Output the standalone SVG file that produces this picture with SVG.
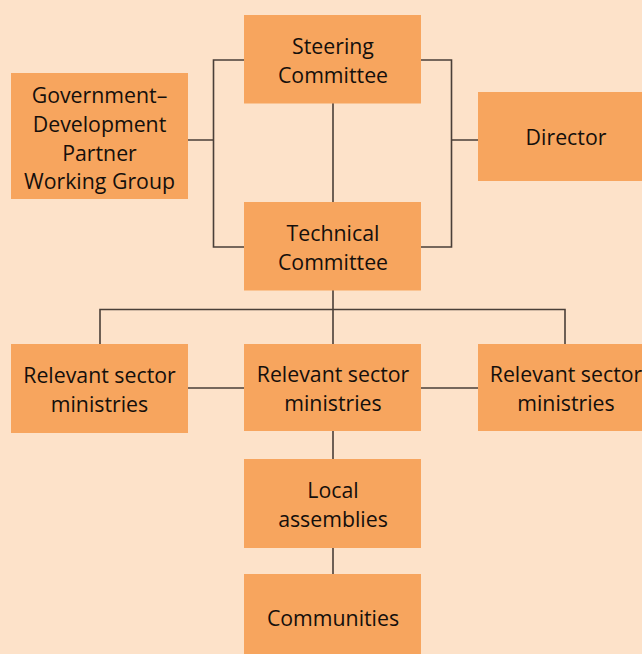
<svg xmlns="http://www.w3.org/2000/svg" width="642" height="654" viewBox="0 0 642 654">
<style>
.bg{fill:#FDE2C9}
.box{fill:#F7A55E}
.t{font-family:"Open Sans","Noto Sans",sans-serif;font-size:21.3px;fill:#140f0c;text-anchor:middle}
.c{stroke:#4a3f38;stroke-width:1.6;fill:none}
</style>
<rect class="bg" x="0" y="0" width="642" height="654"/>
<g id="connectors">
<path class="c" d="M244 60H213.5V247H244M188 140H213.5"/>
<path class="c" d="M421 60H451.5V247H421M451.5 140H478"/>
<path class="c" d="M333 103V202"/>
<path class="c" d="M333 290V344M100 344V309.5H565V344"/>
<path class="c" d="M188 388H244M421 388H478"/>
<path class="c" d="M333 431V459M333 548V574"/>
</g>
<g id="steering"><rect class="box" x="244" y="15" width="177" height="88.5"/><text class="t" x="333" y="54">Steering</text><text class="t" x="333" y="83">Committee</text></g>
<g id="gov"><rect class="box" x="11" y="73" width="177" height="126"/><text class="t" x="99.5" y="103">Government–</text><text class="t" x="99.5" y="132">Development</text><text class="t" x="99.5" y="161">Partner</text><text class="t" x="99.5" y="189">Working Group</text></g>
<g id="director"><rect class="box" x="478" y="92" width="164" height="89"/><text class="t" x="566" y="145">Director</text></g>
<g id="technical"><rect class="box" x="244" y="202" width="177" height="88.5"/><text class="t" x="333" y="241">Technical</text><text class="t" x="333" y="270">Committee</text></g>
<g id="ministries-left"><rect class="box" x="11" y="344" width="177" height="89"/><text class="t" x="99.5" y="383">Relevant sector</text><text class="t" x="99.5" y="412">ministries</text></g>
<g id="ministries-center"><rect class="box" x="244" y="344" width="177" height="87"/><text class="t" x="333" y="382">Relevant sector</text><text class="t" x="333" y="411">ministries</text></g>
<g id="ministries-right"><rect class="box" x="478" y="344" width="164" height="87"/><text class="t" x="566" y="382">Relevant sector</text><text class="t" x="566" y="411">ministries</text></g>
<g id="local"><rect class="box" x="244" y="459" width="177" height="89"/><text class="t" x="333" y="498">Local</text><text class="t" x="333" y="527">assemblies</text></g>
<g id="communities"><rect class="box" x="244" y="574" width="177" height="80"/><text class="t" x="333" y="626">Communities</text></g>
</svg>
